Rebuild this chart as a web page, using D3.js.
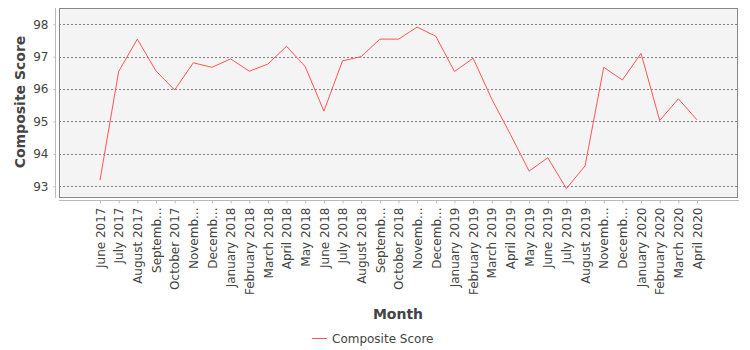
<!DOCTYPE html>
<html><head><meta charset="utf-8">
<script src="https://cdn.jsdelivr.net/npm/d3@7"></script>
<style>
body{margin:0;background:#fff;}
text{font-family:"DejaVu Sans",sans-serif;}
</style></head>
<body><svg id="c" width="750" height="350"></svg>
<script>
const categories = ["June 2017","July 2017","August 2017","September 2017","October 2017","November 2017","December 2017","January 2018","February 2018","March 2018","April 2018","May 2018","June 2018","July 2018","August 2018","September 2018","October 2018","November 2018","December 2018","January 2019","February 2019","March 2019","April 2019","May 2019","June 2019","July 2019","August 2019","November 2019","December 2019","January 2020","February 2020","March 2020","April 2020"];
const tickLabels = ["June 2017","July 2017","August 2017","Septemb...","October 2017","Novemb...","Decemb...","January 2018","February 2018","March 2018","April 2018","May 2018","June 2018","July 2018","August 2018","Septemb...","October 2018","Novemb...","Decemb...","January 2019","February 2019","March 2019","April 2019","May 2019","June 2019","July 2019","August 2019","Novemb...","Decemb...","January 2020","February 2020","March 2020","April 2020"];
const compositeScore = [93.19,96.54,97.54,96.56,95.97,96.81,96.67,96.93,96.55,96.77,97.32,96.69,95.32,96.87,97.0,97.54,97.54,97.91,97.63,96.54,96.95,95.69,94.6,93.47,93.88,92.93,93.63,96.67,96.28,97.10,95.03,95.70,95.05];
const yTicks = [93,94,95,96,97,98];
const seriesName = "Composite Score";

const svg = d3.select("#c");
const plot = {l:59, r:738, t:8, b:197};
const x = d3.scalePoint().domain(categories).range([100, 697]);
const y = d3.scaleLinear().domain([92.67, 98.5]).range([plot.b, plot.t]);
const txt = "#444";

svg.append("rect").attr("x",plot.l).attr("y",plot.t).attr("width",plot.r-plot.l).attr("height",plot.b-plot.t)
  .attr("fill","#f4f4f4");
// gridlines
svg.append("g").selectAll("line").data(yTicks).join("line")
  .attr("x1",plot.l).attr("x2",plot.r)
  .attr("y1",d=>Math.round(y(d))+0.5).attr("y2",d=>Math.round(y(d))+0.5)
  .attr("stroke","#808080").attr("stroke-width",1).attr("stroke-dasharray","2,2");
svg.append("rect").attr("x",plot.l+0.5).attr("y",plot.t+0.5).attr("width",plot.r-plot.l-1).attr("height",plot.b-plot.t)
  .attr("fill","none").attr("stroke","#888");

// line
const line = d3.line().x((d,i)=>x(categories[i])).y(d=>y(d));
svg.append("path").datum(compositeScore).attr("d",line).attr("fill","none")
  .attr("stroke","#ff5555").attr("stroke-width",1);

// y axis
const ya = svg.append("g").attr("transform","translate(55.5,0)")
  .call(d3.axisLeft(y).tickValues(yTicks).tickSize(2).tickPadding(5).tickFormat(d3.format("d")));
ya.select(".domain").remove();
ya.append("line").attr("x1",0).attr("x2",0).attr("y1",plot.t).attr("y2",plot.b+1).attr("stroke","#bbb");
ya.selectAll(".tick line").attr("stroke","#bbb");
ya.selectAll(".tick text").attr("fill",txt).style("font-size","12px").style("font-family","DejaVu Sans");

// x axis
const xa = svg.append("g").attr("transform","translate(0,200.5)")
  .call(d3.axisBottom(x).tickSize(3).tickFormat((d,i)=>tickLabels[i]));
xa.select(".domain").remove();
xa.append("line").attr("x1",plot.l).attr("x2",plot.r+1).attr("y1",0).attr("y2",0).attr("stroke","#bbb");
xa.selectAll(".tick line").attr("stroke","#bbb");
xa.selectAll(".tick text").attr("fill",txt).style("font-size","12px").style("font-family","DejaVu Sans")
  .attr("transform","rotate(-90)").attr("text-anchor","end").attr("x",-7).attr("y",0).attr("dy","0.35em");

// titles
svg.append("text").attr("transform","translate(25,102) rotate(-90)").attr("text-anchor","middle")
  .attr("fill",txt).style("font-size","14px").style("font-weight","bold").text("Composite Score");
svg.append("text").attr("x",398).attr("y",319).attr("text-anchor","middle")
  .attr("fill",txt).style("font-size","14px").style("font-weight","bold").text("Month");

// legend
svg.append("line").attr("x1",312).attr("x2",327).attr("y1",338.5).attr("y2",338.5).attr("stroke","#ff5555");
svg.append("text").attr("x",332).attr("y",342.5).attr("fill",txt).style("font-size","12px").text(seriesName);
</script></body></html>
